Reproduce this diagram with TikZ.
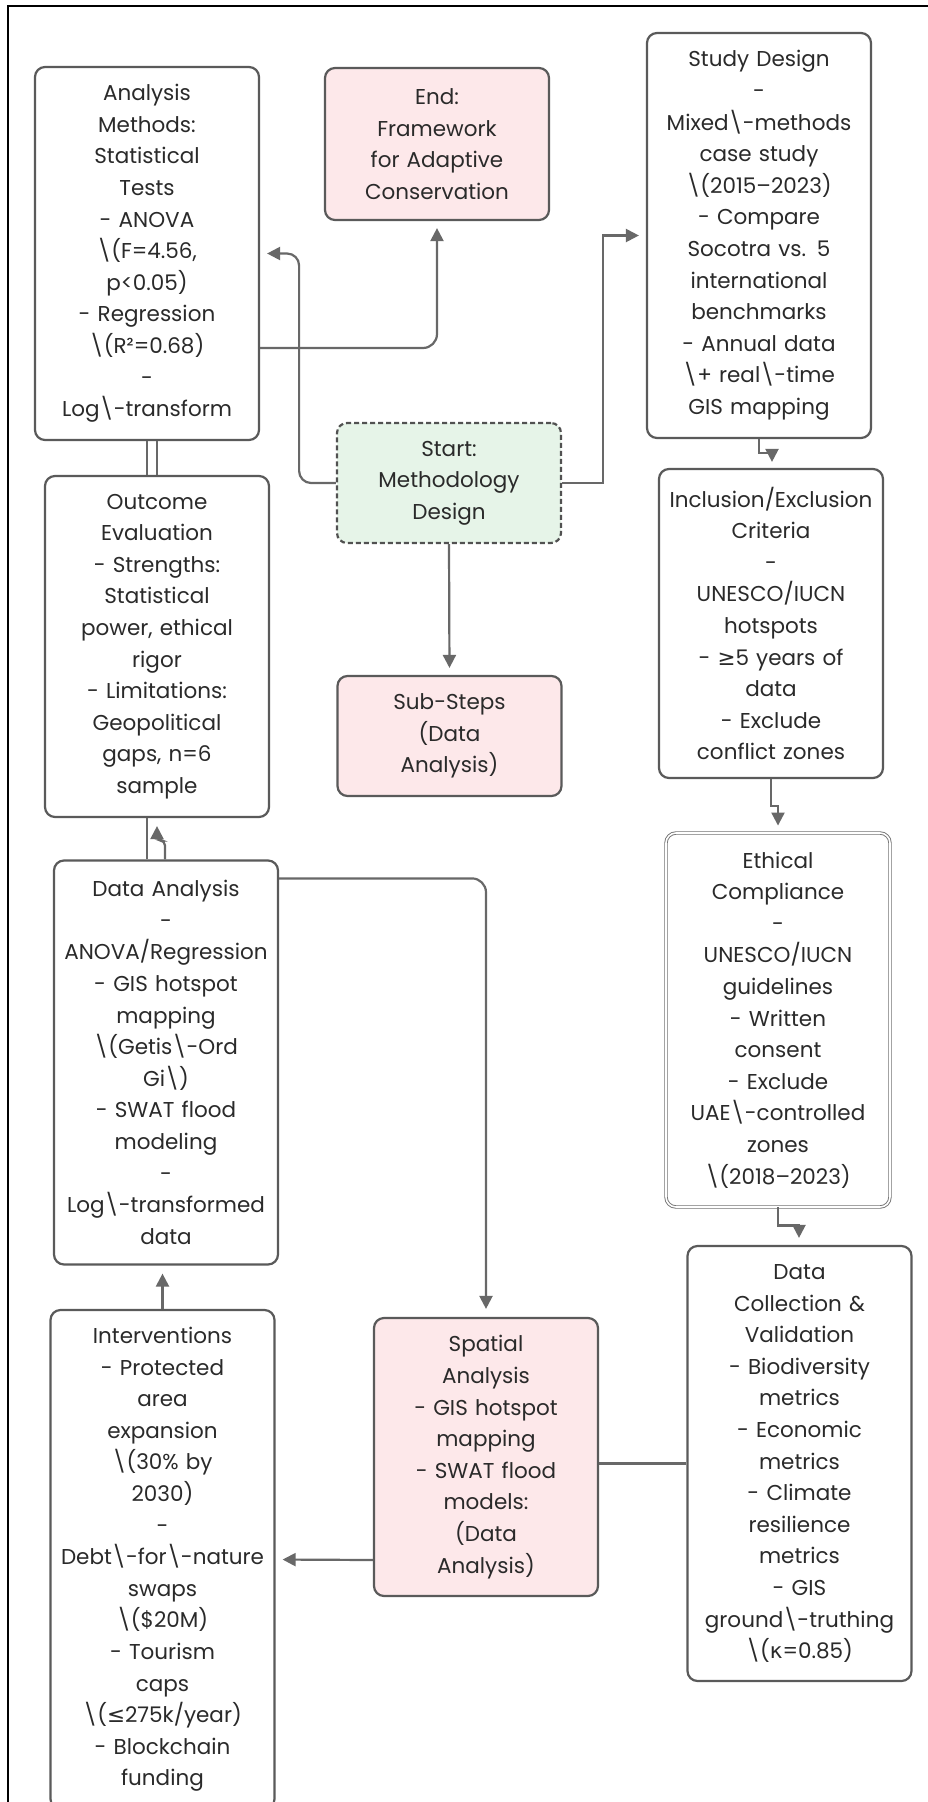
\documentclass[tikz,border=0pt]{standalone}
\usepackage{fontspec}
\setmainfont{Poppins}
\newfontfamily\symf{DejaVu Sans}
\usetikzlibrary{arrows.meta}
\definecolor{boxc}{HTML}{5A5A5A}
\definecolor{pinkf}{HTML}{FDE8EA}
\definecolor{greenf}{HTML}{E6F4E8}
\definecolor{linec}{HTML}{686868}
\definecolor{txtc}{HTML}{2A2A2A}
\newcommand{\bs}{\textbackslash}
\tikzset{
  box/.style={draw=boxc, line width=2.2pt, rounded corners=10pt, fill=white,
    text=txtc, text width=222pt, inner xsep=1pt, inner ysep=0pt,
    align=center, minimum width=224pt,
    font=\fontsize{21.5}{31.6}\selectfont},
  pinkbox/.style={box, fill=pinkf},
  startbox/.style={box, fill=greenf, draw=boxc!90!black, dash pattern=on 5pt off 3pt},
  dblbox/.style={box, draw=boxc!85, line width=0.9pt, double=white, double distance=1.6pt},
  conn/.style={draw=linec, line width=2.2pt},
  arr/.style={conn, -{Triangle[length=13pt,width=13pt]}, shorten >=7pt},
}
\begin{document}
\begin{tikzpicture}[x=1pt,y=-1pt]
\useasboundingbox (0,0) rectangle (928,1802);
\fill[white] (0,0) rectangle (928,1802);
\draw[black, line width=2.5pt] (8,1802) -- (8,6) -- (928,6);

\node[box, minimum height=373pt] (ana) at (147,253.5) {Analysis\\Methods:\\Statistical\\Tests\\- ANOVA\\\bs(F=4.56,\\p<0.05)\\- Regression\\\bs(R²=0.68)\\-\\Log\bs-transform};
\node[pinkbox, minimum height=152pt] (end) at (437,144) {End:\\Framework\\for Adaptive\\Conservation};
\node[box, minimum height=405pt] (study) at (759,235.5) {Study Design\\-\\Mixed\bs-methods\\case study\\\bs(2015–2023)\\- Compare\\Socotra vs. 5\\international\\benchmarks\\- Annual data\\\bs+ real\bs-time\\GIS mapping};
\node[startbox, minimum height=120pt] (start) at (449,483) {Start:\\Methodology\\Design};
\node[box, minimum height=341pt] (outcome) at (157,646.5) {Outcome\\Evaluation\\- Strengths:\\Statistical\\power, ethical\\rigor\\- Limitations:\\Geopolitical\\gaps, n=6\\sample};
\node[pinkbox, minimum height=120pt] (substeps) at (449.5,736) {Sub-Steps\\(Data\\Analysis)};
\node[box, minimum height=309pt] (incl) at (771,623.5) {Inclusion/Exclusion\\Criteria\\-\\UNESCO/IUCN\\hotspots\\- {\symf ≥}5 years of\\data\\- Exclude\\conflict zones};
\node[dblbox, minimum height=374pt] (ethical) at (778,1020) {Ethical\\Compliance\\-\\UNESCO/IUCN\\guidelines\\- Written\\consent\\- Exclude\\UAE\bs-controlled\\zones\\\bs(2018–2023)};
\node[box, minimum height=404pt] (dataan) at (166,1062.5) {Data Analysis\\-\\ANOVA/Regression\\- GIS hotspot\\mapping\\\bs(Getis\bs-Ord\\Gi\bs)\\- SWAT flood\\modeling\\-\\Log\bs-transformed\\data};
\node[box, minimum height=435pt] (datacoll) at (799.5,1463.5) {Data\\Collection \&\\Validation\\- Biodiversity\\metrics\\- Economic\\metrics\\- Climate\\resilience\\metrics\\- GIS\\ground\bs-truthing\\\bs({\symf κ}=0.85)};
\node[pinkbox, minimum height=278pt] (spatial) at (486,1457) {Spatial\\Analysis\\- GIS hotspot\\mapping\\- SWAT flood\\models:\\(Data\\Analysis)};
\node[box, minimum height=499pt] (interv) at (162.5,1559.5) {Interventions\\- Protected\\area\\expansion\\\bs(30\% by\\2030)\\-\\Debt\bs-for\bs-nature\\swaps\\\bs(\$20M)\\- Tourism\\caps\\\bs({\symf ≤}275k/year)\\- Blockchain\\funding};

% connectors
\draw[arr, rounded corners=12pt] (start.west) -| ([xshift=39pt]ana.east) -- (ana.east);
\draw[arr, rounded corners=14pt] ([yshift=-94.5pt]ana.east) -| (end.south);
\draw[arr] (start.east) -| ([xshift=-43pt]study.west) -- (study.west);
\draw[arr] (start.south) -- (substeps.north);
\draw[arr, shorten >=6pt] (study.south) -- ++(0,14) -| ([xshift=1pt]incl.north);
\draw[arr] (incl.south) -- ++(0,27) -| (ethical.north);
\draw[arr] (ethical.south) -- ++(0,18) -| ([xshift=-0.5pt]datacoll.north);
\draw[conn] (datacoll.west) -- (datacoll.west -| spatial.east);
\draw[arr] ([yshift=-103pt]spatial.west) -- (interv.east);
\draw[arr, shorten >=8pt] (interv.north) -- (interv.north |- dataan.south);
\draw[arr, shorten >=8pt, rounded corners=14pt] ([yshift=-19pt]dataan.north east) -| (spatial.north);
\draw[conn] ([xshift=-19pt]dataan.north) -- ([xshift=-19pt]dataan.north |- outcome.south);
\draw[arr, shorten >=8pt, rounded corners=5pt] ([xshift=-1pt]dataan.north) -- ++(0,-19) -| (outcome.south);
\draw[conn] (ana.south) -- (ana.south |- outcome.north);
\draw[conn] (outcome.north |- ana.south) -- (outcome.north);
\end{tikzpicture}
\end{document}
